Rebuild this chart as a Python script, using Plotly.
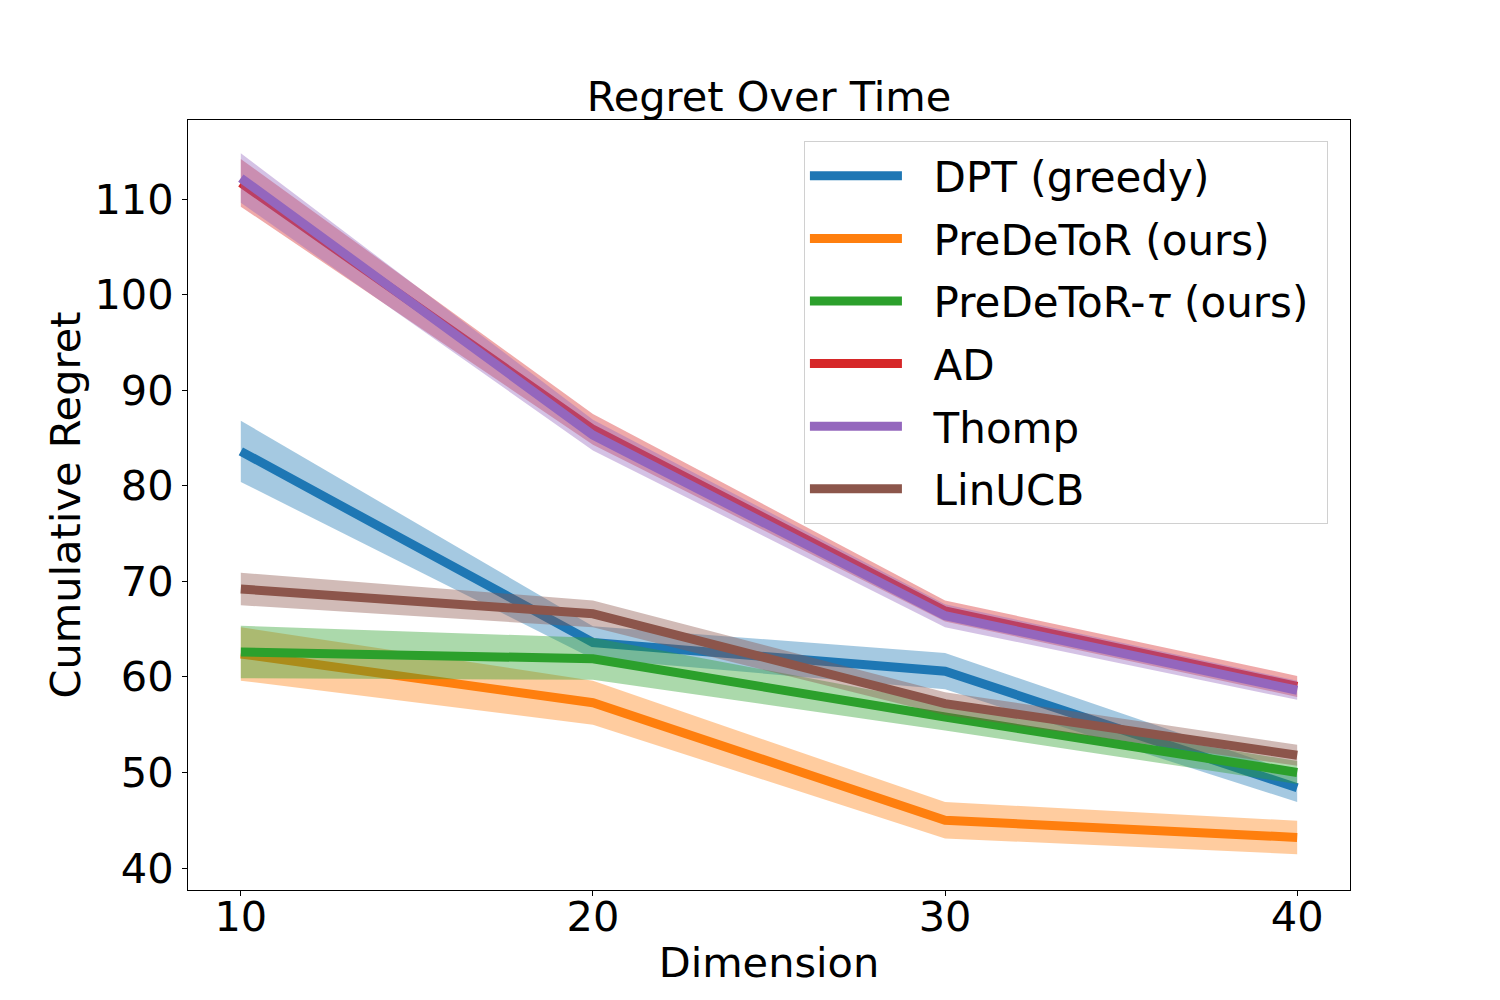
import plotly.graph_objects as go

dims = [10, 20, 30, 40]

names = ["DPT (greedy)", "PreDeToR (ours)", "PreDeToR-<i>τ</i> (ours)", "AD", "Thomp", "LinUCB"]
colors = ["#1f77b4", "#ff7f0e", "#2ca02c", "#d62728", "#9467bd", "#8c564b"]

dpt_mean = [83.6, 63.6, 60.6, 48.4]
dpt_std = [3.2, 1.7, 1.9, 1.5]
predetor_mean = [62.4, 57.3, 45.0, 43.2]
predetor_std = [2.8, 2.3, 1.9, 1.75]
predetor_tau_mean = [62.6, 61.9, 55.8, 50.0]
predetor_tau_std = [2.75, 2.2, 1.4, 1.2]
ad_mean = [111.7, 85.9, 66.9, 59.0]
ad_std = [2.5, 1.6, 1.1, 1.1]
thomp_mean = [112.2, 85.3, 66.4, 58.6]
thomp_std = [2.6, 1.6, 1.2, 1.0]
linucb_mean = [69.2, 66.6, 57.2, 51.8]
linucb_std = [1.7, 1.4, 1.2, 1.1]

means = [dpt_mean, predetor_mean, predetor_tau_mean, ad_mean, thomp_mean, linucb_mean]
stds = [dpt_std, predetor_std, predetor_tau_std, ad_std, thomp_std, linucb_std]

def rgba(hexc, a):
    h = hexc.lstrip("#")
    r, g, b = int(h[0:2], 16), int(h[2:4], 16), int(h[4:6], 16)
    return f"rgba({r},{g},{b},{a})"

FONT = "DejaVu Sans"
PAD = "\u00a0\u00a0"
TAIL = "\u00a0"
fig = go.Figure()
for i, (name, col, m, s) in enumerate(zip(names, colors, means, stds)):
    grp = f"g{i}"
    fig.add_trace(go.Scatter(x=dims, y=m, mode="lines", name=PAD + name + TAIL,
                             line=dict(color=col, width=9), legendgroup=grp))
    upper = [a + b for a, b in zip(m, s)]
    lower = [a - b for a, b in zip(m, s)]
    fig.add_trace(go.Scatter(x=dims + dims[::-1], y=upper + lower[::-1],
                             fill="toself", fillcolor=rgba(col, 0.4),
                             line=dict(width=0), mode="lines",
                             showlegend=False, hoverinfo="skip", legendgroup=grp))

axis_common = dict(showline=True, linecolor="black", linewidth=1.2, mirror=True,
                   ticks="outside", ticklen=5, tickwidth=1.2, tickcolor="black",
                   showgrid=False, zeroline=False,
                   tickfont=dict(family=FONT, size=41.5, color="black"))

fig.update_layout(
    width=1492, height=992,
    margin=dict(l=180, r=150, t=112, b=110),
    plot_bgcolor="white", paper_bgcolor="white",
    title=dict(text="Regret Over Time", x=0.5, xref="paper", xanchor="center",
               y=0.911, yref="container", yanchor="middle",
               font=dict(family=FONT, size=41.5, color="black")),
    xaxis=dict(range=[8.5, 41.5], tickvals=dims, ticklabelstandoff=-15,
               title=dict(text="Dimension", font=dict(family=FONT, size=41.5, color="black"), standoff=8),
               **axis_common),
    yaxis=dict(range=[37.7, 118.27], tickvals=[40, 50, 60, 70, 80, 90, 100, 110],
               title=dict(text="Cumulative Regret", font=dict(family=FONT, size=41.5, color="black"), standoff=0),
               **axis_common),
    legend=dict(x=0.981, y=0.9727, xanchor="right", yanchor="top",
                bgcolor="rgba(255,255,255,0.8)", bordercolor="#d0d0d0", borderwidth=1,
                font=dict(family=FONT, size=42, color="black"),
                itemwidth=92, tracegroupgap=5),
    showlegend=True,
)

fig.write_html("out.html")
